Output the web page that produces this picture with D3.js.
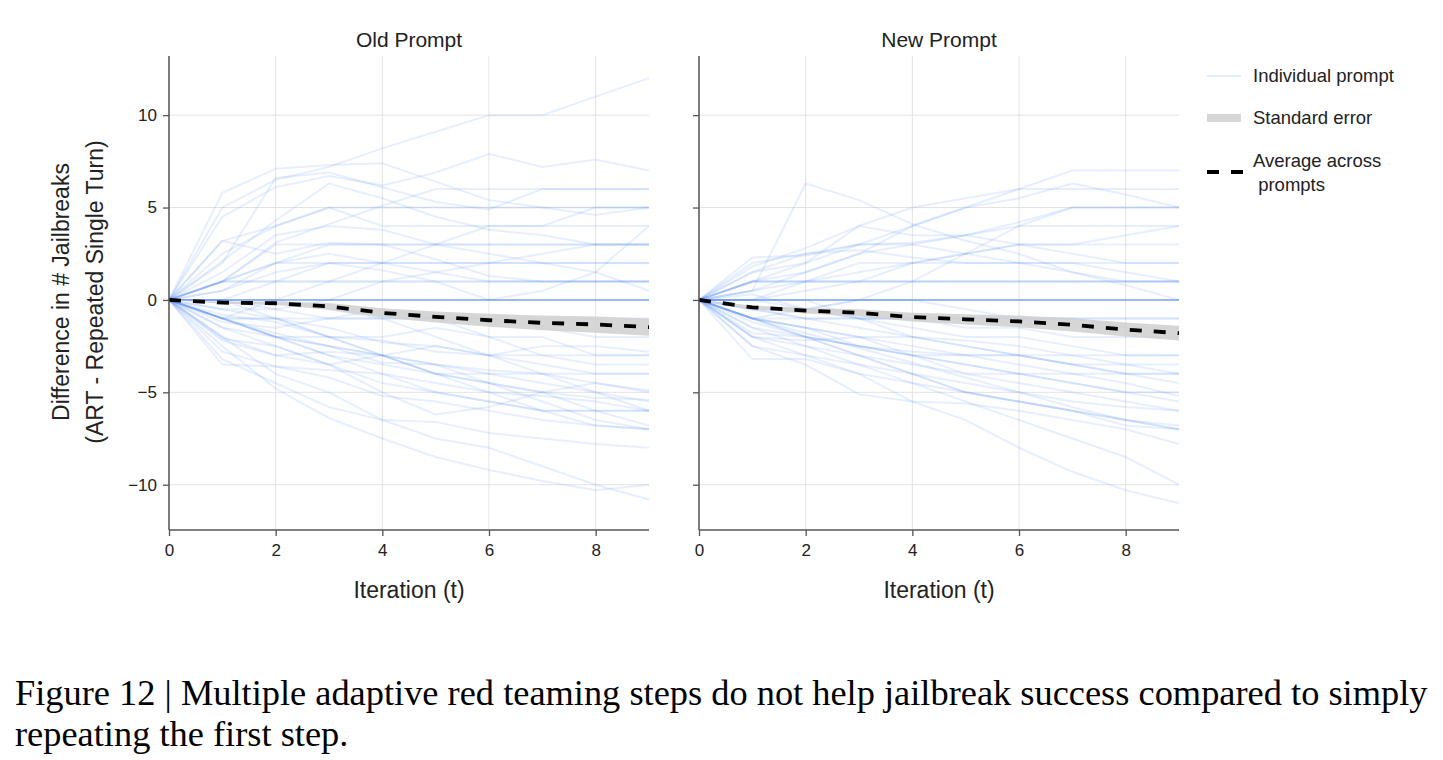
<!DOCTYPE html>
<html>
<head>
<meta charset="utf-8">
<script src="https://cdn.jsdelivr.net/npm/d3@7/dist/d3.min.js"></script>
<style>
  body { margin: 0; background: #fff; }
  svg { display: block; }
  .tick text { font-family: "Liberation Sans", Arial, sans-serif; font-size: 17px; fill: #222; }
</style>
</head>
<body>
<svg id="chart" width="1443" height="760"></svg>
<script>
// iterations on x axis
var iterations = [0, 1, 2, 3, 4, 5, 6, 7, 8, 9];
var xTicks = [0, 2, 4, 6, 8];
var yTicks = [-10, -5, 0, 5, 10];
var panelTitles = ["Old Prompt", "New Prompt"];

// individual prompts, old prompt panel
var oldPromptLines = [
  [0, 5, 6.5, 7.2, 8.2, 9.1, 10, 10, 11, 12],
  [0, 5.8, 7.1, 7.3, 7.4, 6.4, 5.4, 5, 4.6, 5],
  [0, 4.5, 6.1, 6.7, 6.2, 6.9, 7.9, 7.2, 7.6, 7],
  [0, 2, 6.6, 6.9, 6.1, 5.3, 4.9, 6, 6, 6],
  [0, 3.2, 4, 5, 5, 5, 5, 5, 5, 5],
  [0, 1, 3.1, 4.1, 5.1, 6, 6, 6, 6, 6],
  [0, 2.1, 4.3, 6.3, 5.5, 4.5, 3.8, 3.5, 3, 3],
  [0, 1, 2, 2, 2, 2, 2, 2, 2, 2],
  [0, 0, 1, 2, 2, 2, 2, 2, 2, 2],
  [0, 1, 1, 1, 1, 1, 1, 1, 1, 1],
  [0, 1, 1, 1, 1, 1, 1, 1, 1, 1],
  [0, 1, 3, 3, 3, 3, 3, 3, 3, 3],
  [0, 0.5, 2, 3, 3, 3, 3, 3, 3, 3],
  [0, 3.2, 2.5, 3.1, 3, 2.2, 1.3, 1, 1, 1],
  [0, 1.5, 3.5, 4, 3.8, 3, 2.5, 2, 1.5, 0.5],
  [0, 2.5, 4, 5, 4, 4, 4, 4, 4, 4],
  [0, 0, 0, 0, 0, 0, 0, 0, 0, 0],
  [0, 0, 0, 0, 0, 0, 0, 0, 0, 0],
  [0, 0, 0, 0, 0, 0, 0, 0, 0, 0],
  [0, 0, 0, 0, 0, 0, 0, 0, 0, 0],
  [0, 0, 0, 0, 0, 0, 0, 0, 0, 0],
  [0, 0.5, 1.5, 2, 1.6, 1, 0, 0.5, 1.5, 4],
  [0, -1, 0, 1, 2, 3, 4, 4, 5, 5],
  [0, 0, -0.5, 0, 1, 1.5, 2, 2.5, 3, 3],
  [0, 1, 2, 2.5, 2, 1.5, 1, 1, 1, 1],
  [0, -1, -1, -1, -1, -1, -1, -1, -1, -1],
  [0, -1, -1.8, -2.5, -3, -3.5, -4, -4, -4, -4],
  [0, -2.8, -3.6, -4.2, -5.2, -5.5, -6, -6.5, -6.8, -7],
  [0, -1.5, -2.5, -3.5, -4.5, -5, -5.5, -6, -6, -6],
  [0, -3.2, -4.5, -5.8, -6.5, -6.6, -7.2, -7.5, -7.8, -8],
  [0, -2.5, -4.8, -6.4, -7.5, -8.5, -9.2, -9.8, -10.3, -10],
  [0, -2, -4, -5, -6.5, -7.5, -8, -9, -10, -10.8],
  [0, -1, -2, -3, -4, -5, -5.5, -6, -6.8, -7],
  [0, -0.5, -1, -1.5, -2.3, -2.5, -3, -3, -3, -3],
  [0, -1, -2, -2.5, -3, -4, -4.5, -5, -5.3, -5.4],
  [0, -2.1, -2.5, -3.5, -5, -6.2, -5.8, -5, -4.5, -4.9],
  [0, -0.8, -1.2, -2, -2.2, -2.8, -3, -2.5, -2.5, -2.8],
  [0, -1.5, -2, -2.5, -3.4, -3.5, -3.8, -4, -4.5, -5],
  [0, -2.2, -3, -2.8, -3, -3.5, -4.5, -5.5, -6.5, -7],
  [0, -1, -1, -2, -2, -1.5, -2, -3, -3.5, -3.5],
  [0, 0, 0, -0.5, -1, -2, -3, -3.5, -4, -4],
  [0, -3.5, -3.6, -3.8, -4, -4.5, -5, -5.2, -5.5, -6],
  [0, -1.2, -1.5, -1, -0.5, -1, -1, -1.5, -2, -2],
  [0, 0, -1, -2, -3, -4, -4, -4.5, -5, -6],
  [0, -0.5, -0.5, -1, -1, -1, -2, -2, -3, -3],
  [0, -1, -2, -2, -3, -4, -5, -6, -6, -6],
  [0, -2, -3, -3.5, -3, -2.5, -3, -4, -5, -5.5],
  [0, -1, -2, -3, -3.5, -4, -4.5, -5, -6, -6.8]
];

// individual prompts, new prompt panel
var newPromptLines = [
  [0, 0.5, 6.3, 5.4, 4.1, 3.2, 2.5, 1.5, 0.8, 0],
  [0, 1, 1.5, 2.5, 4, 5, 6, 7, 7, 7],
  [0, 1, 2, 3, 4, 5, 5.5, 6.3, 5.7, 5],
  [0, 1, 1, 1, 1, 1, 1, 1, 1, 1],
  [0, 1, 1, 1, 1, 1, 1, 1, 1, 1],
  [0, 1, 1, 1, 1, 1, 1, 1, 1, 1],
  [0, 0, 0, 0, 0, 0, 0, 0, 0, 0],
  [0, 0, 0, 0, 0, 0, 0, 0, 0, 0],
  [0, 0, 0, 0, 0, 0, 0, 0, 0, 0],
  [0, 0, 0, 0, 0, 0, 0, 0, 0, 0],
  [0, 0, 0, 0, 0, 0, 0, 0, 0, 0],
  [0, 2.3, 2.4, 3, 3.1, 3.5, 4, 4, 4, 4],
  [0, 1.5, 2, 4, 5, 5.5, 6, 6, 6, 6],
  [0, 0.5, 1.5, 2.5, 3, 3.5, 4.2, 5, 5, 5],
  [0, 0, 1, 1.5, 2, 2.5, 3, 3, 3, 3],
  [0, 1.8, 2.8, 4, 3.5, 3.5, 3, 3, 3.5, 4],
  [0, 0.5, 1, 2, 2, 2, 2, 2, 2, 2],
  [0, 0, 0.5, 1, 2, 2.5, 3, 2.5, 2, 2],
  [0, 2, 2.5, 3, 3, 2.5, 2, 1.5, 1, 1],
  [0, 1.5, 2.5, 2.7, 2.3, 2, 2, 2, 1.5, 1],
  [0, 0.3, -0.5, 0, 1, 2.5, 4, 5, 5, 5],
  [0, -1, -1, -1, -1, -1, -1, -1, -1, -1],
  [0, -1, -1.5, -2, -2.5, -3, -3, -3, -3, -3],
  [0, -2.5, -3, -3.5, -4, -4.5, -5, -5.5, -5.8, -6],
  [0, -1.5, -2.5, -3.5, -4.5, -5.5, -6.5, -7.5, -8.5, -10],
  [0, -1.2, -2, -3, -4, -5, -5.5, -6, -6.5, -7],
  [0, -1, -2, -3, -4, -5, -5.5, -6, -6.8, -7],
  [0, -2, -3, -4, -5.5, -6.5, -8, -9.3, -10.3, -11],
  [0, -0.5, -1, -1.5, -2, -2.5, -3, -3.5, -4, -4],
  [0, -1.5, -2, -2.5, -2.8, -3, -3, -3.5, -3.5, -3.5],
  [0, -1, -1.5, -2, -2, -2.2, -2.5, -3, -3.5, -4],
  [0, -3.2, -3.2, -4, -4.5, -5, -5.5, -6, -6.5, -6.8],
  [0, -2.5, -3.5, -5.1, -5.5, -5.6, -6, -6.5, -7, -7.8],
  [0, -0.5, -0.5, -1, -1, -1.5, -1.5, -2, -2, -2],
  [0, -1.8, -2, -2.5, -3, -3, -3.5, -4, -4, -4.5],
  [0, -0.5, -1, -1, -1.5, -2, -2, -2.5, -3, -3],
  [0, 0, -0.5, -1, -1, -1, -1, -1, -1.5, -1.5],
  [0, -2, -2.2, -2, -3, -3.5, -4, -4, -4.5, -5.2],
  [0, -1, -1.5, -2.5, -3, -4, -4, -4.5, -5, -5.5],
  [0, 0, 0, -1, -2, -2.5, -3, -3.5, -4, -4],
  [0, -1, -0.5, 0, 0, -0.5, -1, -1, -1, -1],
  [0, -2, -2.5, -3, -3.5, -4, -4.5, -5, -5.5, -6],
  [0, -1, -2, -2.5, -3, -3.5, -4, -4.5, -5, -5],
  [0, -1, -1.8, -2.6, -3.4, -4.2, -5, -5.8, -6.5, -7]
];

// average across prompts and its standard error
var oldMean = [0, -0.15, -0.18, -0.35, -0.7, -0.92, -1.1, -1.24, -1.33, -1.47];
var oldSE = [0, 0.05, 0.1, 0.18, 0.25, 0.3, 0.35, 0.4, 0.44, 0.47];
var newMean = [0, -0.4, -0.58, -0.7, -0.93, -1.05, -1.16, -1.35, -1.6, -1.8];
var newSE = [0, 0.1, 0.15, 0.2, 0.24, 0.28, 0.32, 0.36, 0.38, 0.4];

var svg = d3.select("#chart");
var sans = '"Liberation Sans", Arial, sans-serif';

var panelLeft = [169, 699];
var panelW = 480;
var plotTop = 56, plotBottom = 530;

var y = d3.scaleLinear().domain([-12.45, 13.2]).range([plotBottom, plotTop]);

var panels = [
  { lines: oldPromptLines, mean: oldMean, se: oldSE },
  { lines: newPromptLines, mean: newMean, se: newSE }
];

panels.forEach(function(p, i) {
  var x = d3.scaleLinear().domain([0, 9]).range([panelLeft[i], panelLeft[i] + panelW]);
  var g = svg.append("g");

  // grid
  g.selectAll(".gx").data(xTicks).enter().append("line")
    .attr("x1", function(d) { return x(d); }).attr("x2", function(d) { return x(d); })
    .attr("y1", plotTop).attr("y2", plotBottom)
    .attr("stroke", "#e3e3e6").attr("stroke-width", 1);
  g.selectAll(".gy").data(yTicks).enter().append("line")
    .attr("x1", x(0)).attr("x2", x(9))
    .attr("y1", function(d) { return y(d); }).attr("y2", function(d) { return y(d); })
    .attr("stroke", "#e3e3e6").attr("stroke-width", 1);

  var line = d3.line()
    .x(function(d, j) { return x(iterations[j]); })
    .y(function(d) { return y(d); });

  g.selectAll(".ind").data(p.lines).enter().append("path")
    .attr("d", line)
    .attr("fill", "none")
    .attr("stroke", "rgb(66,133,244)")
    .attr("stroke-opacity", 0.13)
    .attr("stroke-width", 2);

  var band = d3.area()
    .x(function(d, j) { return x(iterations[j]); })
    .y0(function(d, j) { return y(d - p.se[j]); })
    .y1(function(d, j) { return y(d + p.se[j]); });

  g.append("path").attr("d", band(p.mean))
    .attr("fill", "#cfcfcf").attr("fill-opacity", 0.85);

  g.append("path").attr("d", line(p.mean))
    .attr("fill", "none").attr("stroke", "#000")
    .attr("stroke-width", 3.8).attr("stroke-dasharray", "12,12");

  // axes
  var xAxis = d3.axisBottom(x).tickValues(xTicks).tickSize(6).tickPadding(8).tickFormat(d3.format("d"));
  var gx = g.append("g").attr("transform", "translate(0," + plotBottom + ")").call(xAxis);
  var yAxis = d3.axisLeft(y).tickValues(yTicks).tickSize(6).tickPadding(6);
  if (i === 1) yAxis.tickFormat("");
  var gy = g.append("g").attr("transform", "translate(" + x(0) + ",0)").call(yAxis);
  [gx, gy].forEach(function(a) {
    a.select(".domain").attr("stroke", "#555").attr("stroke-width", 1.5);
    a.selectAll(".tick line").attr("stroke", "#555").attr("stroke-width", 1.3);
  });
  gx.select(".domain").attr("d", "M" + x(0) + ",0H" + x(9));
  gy.select(".domain").attr("d", "M0," + plotTop + "V" + plotBottom);

  g.append("text").attr("x", x(4.5)).attr("y", 47)
    .attr("text-anchor", "middle").attr("font-family", sans).attr("font-size", 21).attr("fill", "#222")
    .text(panelTitles[i]);
  g.append("text").attr("x", x(4.5)).attr("y", 598)
    .attr("text-anchor", "middle").attr("font-family", sans).attr("font-size", 23).attr("fill", "#222")
    .text("Iteration (t)");
});

// y label
var yl = svg.append("text")
  .attr("transform", "translate(0,292) rotate(-90)")
  .attr("text-anchor", "middle").attr("font-family", sans).attr("font-size", 23).attr("fill", "#222");
yl.append("tspan").attr("x", 0).attr("y", 69).text("Difference in # Jailbreaks");
yl.append("tspan").attr("x", 0).attr("y", 103).text("(ART - Repeated Single Turn)");

// legend
var lg = svg.append("g");
lg.append("line").attr("x1", 1207).attr("x2", 1241).attr("y1", 76).attr("y2", 76)
  .attr("stroke", "rgb(66,133,244)").attr("stroke-opacity", 0.15).attr("stroke-width", 2);
lg.append("line").attr("x1", 1207).attr("x2", 1241).attr("y1", 118).attr("y2", 118)
  .attr("stroke", "#d6d6d6").attr("stroke-width", 8);
lg.append("line").attr("x1", 1207).attr("x2", 1243).attr("y1", 172).attr("y2", 172)
  .attr("stroke", "#000").attr("stroke-width", 3.8).attr("stroke-dasharray", "12,12");
var lt = [["Individual prompt", 82], ["Standard error", 124], ["Average across", 167], [" prompts", 191]];
lt.forEach(function(t) {
  lg.append("text").attr("x", 1253).attr("y", t[1]).attr("font-family", sans).attr("font-size", 18.5)
    .attr("fill", "#222").attr("xml:space", "preserve").style("white-space", "pre").text(t[0]);
});

// caption
var serif = '"Liberation Serif", "DejaVu Serif", serif';
var c1 = svg.append("text").attr("x", 15).attr("y", 705).attr("font-family", serif).attr("font-size", 32).attr("fill", "#000")
  .text("Figure 12 | Multiple adaptive red teaming steps do not help jailbreak success compared to simply");
var w = c1.node().getComputedTextLength();
var fs = 32 * 1413 / w;
c1.attr("font-size", fs);
svg.append("text").attr("x", 15).attr("y", 746).attr("font-family", serif).attr("font-size", fs).attr("fill", "#000")
  .text("repeating the first step.");
</script>
</body>
</html>
